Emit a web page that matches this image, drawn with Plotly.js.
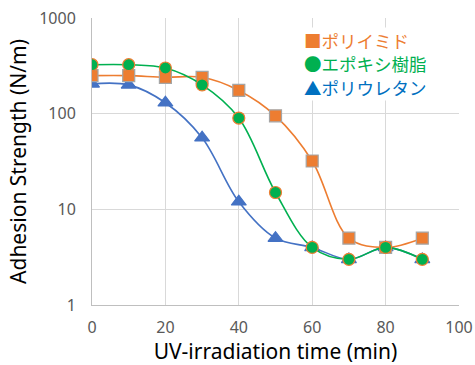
<!DOCTYPE html>
<html><head><meta charset="utf-8">
<script src="https://cdn.plot.ly/plotly-3.0.1.min.js"></script>
<style>html,body{margin:0;padding:0;background:#fff}</style>
</head><body>
<div id="chart" style="width:475px;height:365px"></div>
<script>
const time = [0, 10, 20, 30, 40, 50, 60, 70, 80, 90];
const polyimide = [250, 250, 240, 240, 175, 95, 32, 5, 4, 5];
const epoxy = [325, 325, 300, 200, 90, 15, 4, 3, 4, 3];
const polyurethane = [205, 200, 130, 56, 12, 5, 4, 3, 4, 3];
const names = ['ポリイミド', 'エポキシ樹脂', 'ポリウレタン'];
const legendGlyphs = ['■', '●', '▲'];
const xTicks = [0, 20, 40, 60, 80, 100];
const yTicks = [1, 10, 100, 1000];

const series = [
  {y: polyurethane, color: '#4472C4', sym: 'triangle-up', edge: '#4472C4', size: 13},
  {y: polyimide, color: '#ED7D31', sym: 'square', edge: '#A5A5A5', size: 12},
  {y: epoxy, color: '#00B050', sym: 'circle', edge: '#ED7D31', size: 12}
];
const traces = series.map(s => ({
  x: time, y: s.y, mode: 'lines+markers', type: 'scatter', showlegend: false,
  line: {shape: 'spline', smoothing: 1, color: s.color, width: 1.6},
  marker: {symbol: s.sym, size: s.size, color: s.color, line: {color: s.edge, width: 1.2}}
}));

const legendColors = ['#ED7D31', '#00B050', '#0070C0'];
const legendY = [0.923, 0.841, 0.759];
const annotations = names.map((n, i) => ({
  xref: 'paper', yref: 'paper', x: 0.575, y: legendY[i],
  xanchor: 'left', yanchor: 'middle', showarrow: false,
  text: legendGlyphs[i] + n,
  font: {family: 'Noto Sans CJK JP', size: 17.5, color: legendColors[i]},
  bgcolor: '#fff', borderpad: 0
}));

const layout = {
  width: 475, height: 365,
  margin: {l: 92, r: 16, t: 18, b: 60},
  paper_bgcolor: '#fff', plot_bgcolor: '#fff',
  font: {family: 'Noto Sans, Liberation Sans, sans-serif', color: '#595959'},
  showlegend: false,
  annotations: annotations,
  xaxis: {
    range: [0, 100], tickvals: xTicks, ticktext: xTicks.map(String),
    showgrid: true, gridcolor: '#D9D9D9', gridwidth: 1,
    showline: true, linecolor: '#BFBFBF', zeroline: false, ticks: '',
    ticklabelstandoff: 8,
    tickfont: {size: 16, color: '#595959'},
    title: {text: 'UV-irradiation time (min)', font: {size: 21, color: '#000'}, standoff: 6}
  },
  yaxis: {
    type: 'log', range: [0, 3], tickvals: yTicks, ticktext: yTicks.map(String),
    showgrid: true, gridcolor: '#D9D9D9', gridwidth: 1,
    showline: true, linecolor: '#BFBFBF', zeroline: false, ticks: '',
    ticklabelstandoff: 12,
    tickfont: {size: 16, color: '#595959'},
    title: {text: 'Adhesion Strength (N/m)', font: {size: 21, color: '#000'}, standoff: 6}
  }
};
Plotly.newPlot('chart', traces, layout, {displayModeBar: false, staticPlot: true});
</script>
</body></html>
